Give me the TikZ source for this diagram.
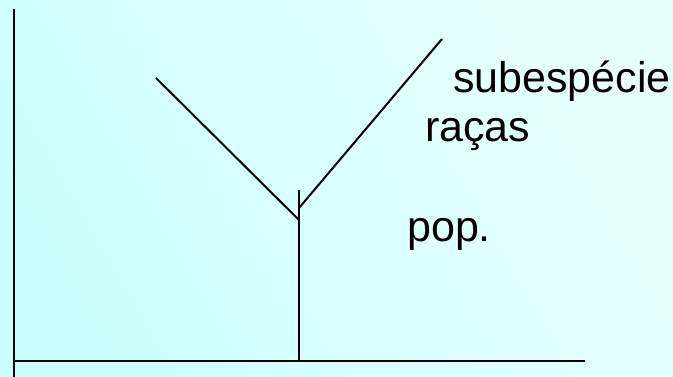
\documentclass[tikz,border=0pt]{standalone}
\usepackage{fontspec}
\setmainfont{Liberation Sans}
\definecolor{bgA}{RGB}{204,255,255}
\definecolor{bgB}{RGB}{232,255,255}
\begin{document}
\begin{tikzpicture}[x=1pt,y=-1pt,
  axisline/.style={line width=2.2pt,black},
  branchline/.style={line width=2pt,black},
  lbl/.style={anchor=base west,inner sep=0pt,font=\fontsize{43}{50}\selectfont}]
\shade[left color=bgA,right color=bgB,shading angle=120] (0,0) rectangle (673,377);
\useasboundingbox (0,0) rectangle (673,377);
% axes
\coordinate (ytop) at (14,9);
\coordinate (origin) at (14,361);
\coordinate (ybot) at (14,377);
\coordinate (xend) at (585,361);
\draw[axisline] (ytop) -- (ybot);
\draw[axisline] (origin) -- (xend);
% tree
\coordinate (stemtop) at (299,190);
\coordinate (stembase) at (299,361);
\coordinate (fork) at (299,220);
\coordinate (rstart) at (299,208);
\coordinate (ltip) at (156,78);
\coordinate (rtip) at (442,39);
\draw[branchline] (stemtop) -- (stembase);
\draw[branchline] (ltip) -- (fork);
\draw[branchline] (rstart) -- (rtip);
% labels
\node[lbl] (sub) at (453,93) {subespécie};
\node[lbl] (rac) at (425,142) {raças};
\node[lbl] (pop) at (407,242) {pop.};
\end{tikzpicture}
\end{document}
